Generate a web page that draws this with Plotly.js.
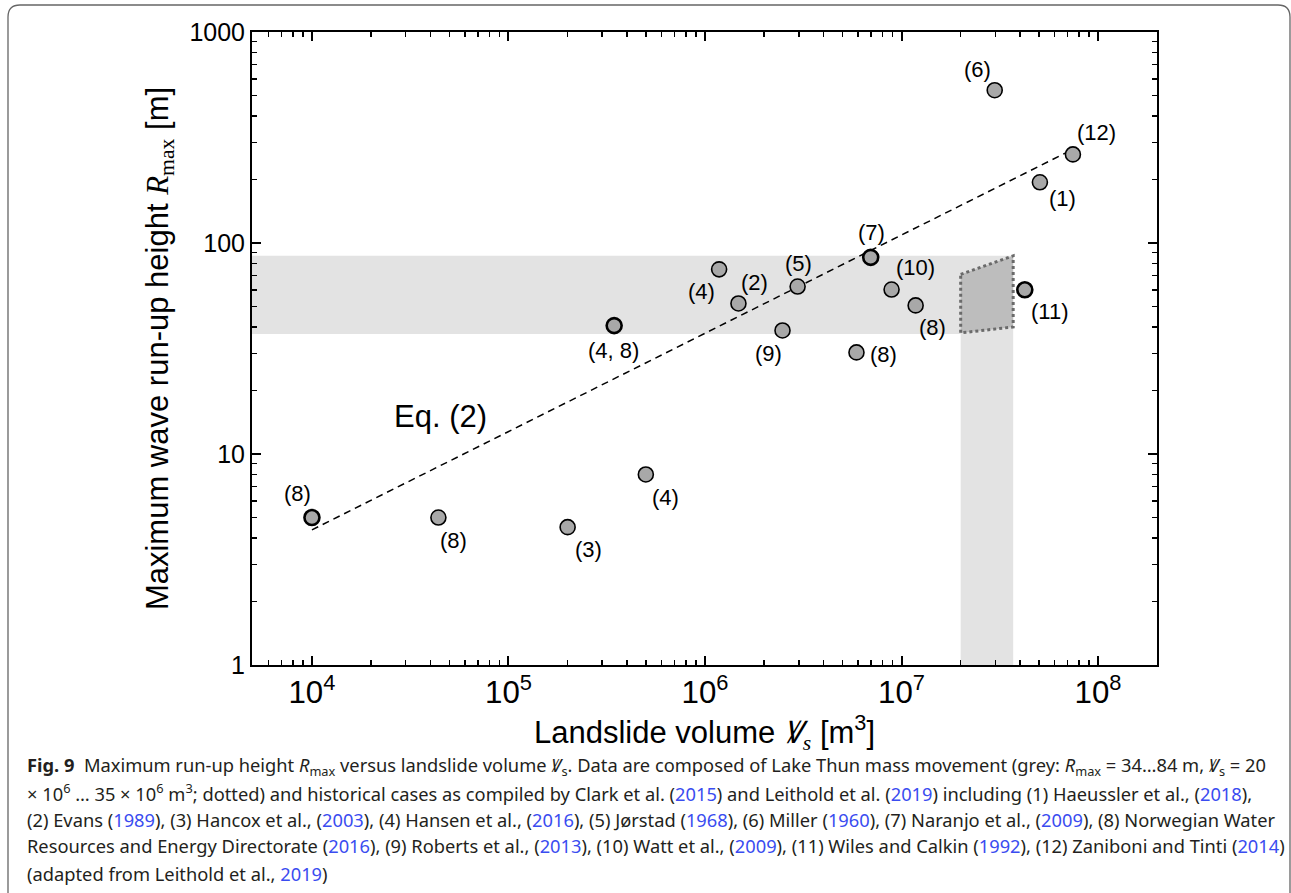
<!DOCTYPE html>
<html><head><meta charset="utf-8">
<script src="https://cdn.plot.ly/plotly-3.0.1.min.js"></script>
<style>html,body{margin:0;padding:0;background:#fff}#chart{width:1291px;height:893px}</style>
</head><body><div id="chart"></div>
<script>
// ---- data ----
const volumes = [1e4, 4.4e4, 2e5, 5e5, 3.45e5, 1.18e6, 1.48e6, 2.48e6, 2.96e6, 6.97e6, 5.9e6, 8.9e6, 1.18e7, 4.24e7, 5.06e7, 7.45e7, 2.98e7];
const runups  = [5.0, 5.0, 4.5, 8.0, 40.6, 75, 51.7, 38.5, 62.2, 85.5, 30.3, 60.2, 50.6, 60, 194, 263, 530];
const refLabels = ['(8)','(8)','(3)','(4)','(4, 8)','(4)','(2)','(9)','(5)','(7)','(8)','(10)','(8)','(11)','(1)','(12)','(6)'];
const eqVolume = [1e4, 7.45e7];
const eqRunup  = [4.37, 278];
const thunRunup  = [37, 87];
const thunVolume = [2e7, 3.7e7];
const quadVolume = [2e7, 3.7e7, 3.7e7, 2e7];
const quadRunup  = [71, 87, 40, 37.5];
const yTickVals = [1, 10, 100, 1000];
const yTickText = ['1', '10', '100', '1000'];

// ---- layout helpers ----
const M = {l: 252, r: 134, t: 32, b: 228};
const W = 1291 - M.l - M.r, H = 893 - M.t - M.b;
const px = x => (x - M.l) / W;
const py = y => (M.t + H - y) / H;
// label offsets (px): [dx, dy up]
const labelOffsets = [[-14,24],[15,-23],[21,-22],[20,-23],[-1,-25],[-18,-22],[16,21],[-14,-23],[1,23],[1,25],[27,-2],[24,22],[17,-22],[25,-22],[23,-16],[24,22],[-17,21]];
const thick = [0, 4, 9, 13];

const traces = [
  { // horizontal grey band
    x: [1e3, thunVolume[1], thunVolume[1], 1e3], y: [thunRunup[0], thunRunup[0], thunRunup[1], thunRunup[1]],
    fill: 'toself', fillcolor: '#e3e3e3', mode: 'none', type: 'scatter', hoverinfo: 'skip'
  },
  { // vertical grey band
    x: [thunVolume[0], thunVolume[1], thunVolume[1], thunVolume[0]], y: [0.1, 0.1, thunRunup[0], thunRunup[0]],
    fill: 'toself', fillcolor: '#e3e3e3', mode: 'none', type: 'scatter', hoverinfo: 'skip'
  },
  { // dotted quadrilateral
    x: quadVolume.concat([quadVolume[0]]), y: quadRunup.concat([quadRunup[0]]),
    fill: 'toself', fillcolor: '#bdbdbd', mode: 'lines', type: 'scatter',
    line: {color: '#6a6a6a', width: 3, dash: 'dot'}
  },
  { // Eq. (2)
    x: eqVolume, y: eqRunup, mode: 'lines', type: 'scatter',
    line: {color: '#000', width: 1.5, dash: '7px,5px'}
  },
  {
    x: volumes, y: runups, mode: 'markers', type: 'scatter',
    marker: {size: 15, color: '#a8a8a8',
      line: {color: '#000', width: volumes.map((v, i) => thick.includes(i) ? 2.6 : 1.6)}}
  }
];

const ann = refLabels.map((t, i) => ({
  x: Math.log10(volumes[i]), y: Math.log10(runups[i]), xref: 'x', yref: 'y',
  text: t, showarrow: false, xshift: labelOffsets[i][0], yshift: labelOffsets[i][1],
  font: {family: 'Liberation Sans, Arial', size: 22, color: '#000'}
}));
ann.push({x: px(440), y: py(416), xref: 'paper', yref: 'paper', xanchor: 'center', yanchor: 'middle',
  text: 'Eq. (2)', showarrow: false,
  font: {family: 'Liberation Sans, Arial', size: 31, color: '#000'}});

const blue = s => '<span style="fill:#3a4cf0;color:#3a4cf0">' + s + '</span>';
const serifI = s => '<i>' + s + '</i>';
const capLines = [
  '<b>Fig. 9</b>  Maximum run-up height ' + serifI('R') + '<sub>max</sub> versus landslide volume ' + serifI('Ꝟ') + '<sub>s</sub>. Data are composed of Lake Thun mass movement (grey: ' + serifI('R') + '<sub>max</sub> = 34…84 m, ' + serifI('Ꝟ') + '<sub>s</sub> = 20',
  '× 10<sup>6</sup> … 35 × 10<sup>6</sup> m<sup>3</sup>; dotted) and historical cases as compiled by Clark et al. (' + blue('2015') + ') and Leithold et al. (' + blue('2019') + ') including (1) Haeussler et al., (' + blue('2018') + '),',
  '(2) Evans (' + blue('1989') + '), (3) Hancox et al., (' + blue('2003') + '), (4) Hansen et al., (' + blue('2016') + '), (5) Jørstad (' + blue('1968') + '), (6) Miller (' + blue('1960') + '), (7) Naranjo et al., (' + blue('2009') + '), (8) Norwegian Water',
  'Resources and Energy Directorate (' + blue('2016') + '), (9) Roberts et al., (' + blue('2013') + '), (10) Watt et al., (' + blue('2009') + '), (11) Wiles and Calkin (' + blue('1992') + '), (12) Zaniboni and Tinti (' + blue('2014') + ')',
  '(adapted from Leithold et al., ' + blue('2019') + ')'
];
const capY = [766, 792, 819, 846, 873];
capLines.forEach((t, i) => ann.push({
  x: px(25), y: py(capY[i]), xref: 'paper', yref: 'paper', xanchor: 'left', yanchor: 'middle',
  text: t, showarrow: false, align: 'left',
  font: {family: 'Noto Sans', size: 18.3, color: '#231f20'}
}));

// rounded frame
const L = 8, T = 5, R = 1290, B = 905, rr = 12;
const framePath = `M ${px(L)} ${py(T+rr)} Q ${px(L)} ${py(T)} ${px(L+rr)} ${py(T)} L ${px(R-rr)} ${py(T)} Q ${px(R)} ${py(T)} ${px(R)} ${py(T+rr)} L ${px(R)} ${py(B-rr)} Q ${px(R)} ${py(B)} ${px(R-rr)} ${py(B)} L ${px(L+rr)} ${py(B)} Q ${px(L)} ${py(B)} ${px(L)} ${py(B-rr)} Z`;

const axisCommon = {
  type: 'log', showgrid: false, zeroline: false, showline: true, linecolor: '#000', linewidth: 2,
  mirror: 'allticks', ticks: 'inside', ticklen: 9, tickwidth: 2, tickcolor: '#000',
  tickfont: {family: 'Liberation Sans, Arial', size: 25, color: '#000'},
  minor: {ticks: 'inside', ticklen: 5, tickwidth: 1.5, tickcolor: '#000', dtick: 'D1', showgrid: false}
};

const layout = {
  width: 1291, height: 893, margin: M, paper_bgcolor: '#fff', plot_bgcolor: '#fff',
  showlegend: false,
  xaxis: Object.assign({}, axisCommon, {
    range: [3.695, 8.30], dtick: 1, exponentformat: 'power',
    title: {text: 'Landslide volume <span style="font-family:Liberation Serif"><i>Ꝟ<sub>s</sub></i></span> [m<sup>3</sup>]',
      font: {family: 'Liberation Sans, Arial', size: 31, color: '#000'}, standoff: 4}
  }),
  yaxis: Object.assign({}, axisCommon, {
    range: [0, 3], tickvals: yTickVals, ticktext: yTickText,
    title: {text: 'Maximum wave run-up height <span style="font-family:Liberation Serif"><i>R</i><sub>max</sub></span> [m]',
      font: {family: 'Liberation Sans, Arial', size: 31, color: '#000'}, standoff: 12}
  }),
  annotations: ann,
  shapes: [{type: 'path', xref: 'paper', yref: 'paper', path: framePath, line: {color: '#666', width: 1.3}, layer: 'above'}]
};

Plotly.newPlot('chart', traces, layout, {displayModeBar: false, staticPlot: true});
</script></body></html>
